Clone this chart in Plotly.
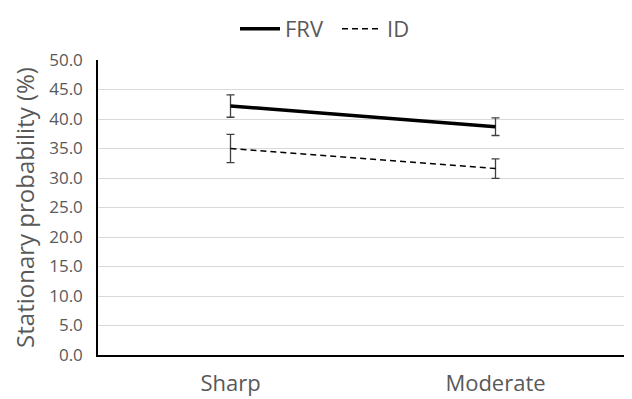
import plotly.graph_objects as go

categories = ["Sharp", "Moderate"]
frv_values = [42.2, 38.7]
frv_errors = [1.9, 1.5]
id_values = [35.0, 31.6]
id_errors = [2.4, 1.65]
y_ticks = [0, 5, 10, 15, 20, 25, 30, 35, 40, 45, 50]

fig = go.Figure()
fig.add_trace(go.Scatter(
    x=categories, y=frv_values, name="FRV", mode="lines",
    line=dict(color="black", width=3.5),
    error_y=dict(type="data", array=frv_errors, visible=True, color="#404040", thickness=1.3, width=4),
))
fig.add_trace(go.Scatter(
    x=categories, y=id_values, name="ID", mode="lines",
    line=dict(color="black", width=1.5, dash="6px,4px"),
    error_y=dict(type="data", array=id_errors, visible=True, color="#404040", thickness=1.3, width=4),
))

# page body has an 8px default margin; margins compensate for it
font_family = "Open Sans, Liberation Sans, sans-serif"
fig.update_layout(
    width=632, height=399,
    margin=dict(l=90, r=12, t=52, b=52),
    plot_bgcolor="white", paper_bgcolor="white",
    font=dict(family=font_family, color="#595959", size=16),
    legend=dict(orientation="h", x=(241 - 8 - 6) / 632, xanchor="left", xref="container",
                y=1.0, yanchor="top", yref="container",
                font=dict(size=22, color="#595959"),
                itemwidth=40, entrywidth=47, entrywidthmode="pixels", tracegroupgap=0),
    showlegend=True,
)
fig.update_xaxes(
    type="category", range=[-0.5, 1.5], showline=True, linecolor="black", linewidth=1.5,
    showgrid=False, ticks="", tickfont=dict(size=22, color="#595959"), ticklabelstandoff=8,
    automargin=False,
)
fig.update_yaxes(
    range=[0, 50], tickvals=y_ticks, ticktext=[f"{v:.1f}" for v in y_ticks],
    showline=True, linecolor="black", linewidth=1.5,
    showgrid=True, gridcolor="#d9d9d9", gridwidth=1, zeroline=False,
    tickfont=dict(size=17, color="#595959"), ticklabelstandoff=10,
    title=dict(text="Stationary probability (%)", font=dict(size=24, color="#595959"), standoff=28),
    automargin=False,
)
fig.write_html("out.html")
